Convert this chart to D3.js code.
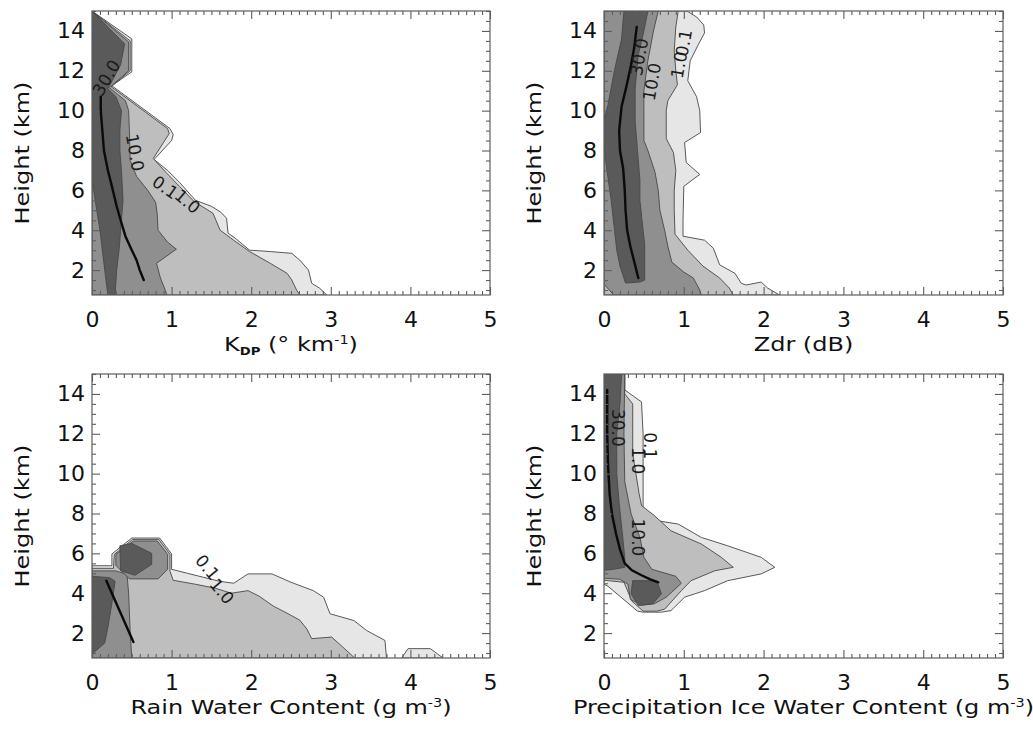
<!DOCTYPE html>
<html>
<head>
<meta charset="utf-8">
<script src="https://cdn.jsdelivr.net/npm/d3@7"></script>
<style>
  html, body { margin: 0; padding: 0; background: #ffffff; }
  svg { display: block; font-family: "DejaVu Sans", sans-serif; }
</style>
</head>
<body>
<svg id="chart" width="1033" height="729"></svg>
<script>
// ---------------------------------------------------------------
// Axis ticks shared by all four CFAD panels
// ---------------------------------------------------------------
const xTickValues = [0, 1, 2, 3, 4, 5];
const heightTickValues = [2, 4, 6, 8, 10, 12, 14];
const heightDomain = [0.75, 15];
const xDomain = [0, 5];

// Frequency contour levels (%) and their fill shades
const contourLevels = [0.1, 1.0, 10.0, 30.0];
const levelFills = ["#e6e6e6", "#bebebe", "#8f8f8f", "#5a5a5a"];

// ---------------------------------------------------------------
// KDP (deg/km) — contour outlines as [value, height km]
// ---------------------------------------------------------------
const kdpLevel01 = [[0,15],[0.5,13.6],[0.5,11.95],[0.25,11.25],[0.98,9.1],[1.02,8.8],[1.0,8.5],[0.78,7.55],[0.95,7.0],[1.1,6.4],[1.3,5.5],[1.5,5.2],[1.62,4.9],[1.69,4.6],[1.71,3.85],[1.8,3.6],[1.98,3.0],[2.24,2.93],[2.51,2.84],[2.61,2.5],[2.72,2.0],[2.76,1.34],[2.86,1.09],[2.95,0.75],[0,0.75]];
const kdpLevel1 = [[0,15],[0.48,13.5],[0.48,12.0],[0.24,11.2],[0.95,9.1],[0.97,8.85],[0.77,7.6],[0.93,6.9],[1.1,6.2],[1.28,5.45],[1.52,4.85],[1.61,4.0],[1.78,3.5],[1.98,2.93],[2.24,2.34],[2.45,1.84],[2.51,1.5],[2.57,1.0],[2.61,0.75],[0,0.75]];
const kdpLevel10 = [[0,15],[0.46,13.45],[0.46,12.0],[0.22,11.15],[0.42,10.5],[0.46,10.0],[0.47,9.0],[0.48,7.5],[0.56,6.7],[0.7,6.0],[0.8,5.4],[0.82,4.8],[0.83,4.0],[0.95,3.4],[1.06,3.05],[0.81,2.34],[0.86,1.6],[0.92,1.0],[0.94,0.75],[0,0.75]];
const kdpLevel30 = [[0,15],[0.41,13.35],[0.36,12.3],[0.2,11.1],[0.3,10.7],[0.37,10.0],[0.35,9.0],[0.35,8.0],[0.37,7.0],[0.39,5.5],[0.36,4.0],[0.34,3.0],[0.31,2.0],[0.29,0.75],[0.2,0.75],[0.16,2.0],[0.1,4.0],[0.04,5.5],[0,6.6]];
const kdpMean = [[0.11,10.7],[0.11,10.0],[0.13,9.0],[0.15,8.0],[0.2,7.0],[0.25,6.2],[0.31,5.2],[0.36,4.5],[0.42,3.7],[0.5,3.0],[0.56,2.5],[0.6,2.0],[0.65,1.5]];

// ---------------------------------------------------------------
// Zdr (dB)
// ---------------------------------------------------------------
const zdrLevel01 = [[0,15],[1.04,15],[1.16,14.7],[1.25,14.3],[1.26,13.9],[1.18,13.3],[1.08,12.5],[1.05,11.5],[1.16,10.7],[1.2,10.0],[1.21,8.9],[1.01,8.4],[1.03,7.4],[1.2,6.8],[1.0,6.2],[0.99,4.5],[0.99,3.7],[1.26,3.5],[1.37,3.1],[1.45,2.26],[1.64,1.84],[1.72,1.34],[1.78,1.25],[1.97,1.4],[2.05,1.1],[2.2,0.75],[0,0.75]];
const zdrLevel1 = [[0,15],[0.93,15],[0.9,14.2],[0.88,13.0],[0.9,12.0],[0.92,11.3],[0.8,10.5],[0.78,10.0],[0.78,8.6],[0.87,7.9],[0.9,7.0],[0.88,6.0],[0.88,5.0],[0.89,3.8],[1.05,3.0],[1.24,2.2],[1.45,1.6],[1.57,1.1],[1.62,0.75],[0,0.75]];
const zdrLevel10 = [[0,15],[0.68,15],[0.62,14],[0.55,12.5],[0.5,11],[0.5,10],[0.5,8.5],[0.55,8.0],[0.64,6.9],[0.68,6.0],[0.7,5.0],[0.76,4.0],[0.8,3.2],[0.85,2.4],[1.0,1.9],[1.12,1.6],[1.2,1.0],[1.22,0.75],[0.12,0.75],[0,1.3]];
const zdrLevel30 = [[0.25,15],[0.55,15],[0.5,14],[0.43,12.8],[0.39,11.1],[0.39,9.5],[0.42,8.0],[0.45,6.5],[0.45,5.5],[0.49,4.0],[0.51,3.3],[0.51,1.5],[0.45,1.4],[0.27,1.35],[0.2,2.2],[0.16,3.0],[0.09,5.5],[0.02,7.5],[0,8.5],[0,9.5],[0.05,10.3],[0.13,12],[0.22,13.6]];
const zdrMean = [[0.41,14.2],[0.38,13.2],[0.34,12.3],[0.28,11.2],[0.22,10.2],[0.19,9.0],[0.2,8.0],[0.24,7.1],[0.26,6.0],[0.27,5.0],[0.29,4.0],[0.33,3.2],[0.38,2.4],[0.43,1.6]];

// ---------------------------------------------------------------
// Rain water content (g m^-3)
// ---------------------------------------------------------------
const rwcLevel01 = [[0,5.38],[0.25,5.38],[0.25,5.97],[0.5,6.77],[0.85,6.77],[1.0,5.97],[1.0,5.2],[1.2,5.0],[1.4,4.8],[1.6,4.6],[1.78,4.5],[1.96,4.97],[2.26,4.97],[2.5,4.55],[2.78,4.13],[2.91,3.8],[2.99,2.97],[3.29,2.63],[3.45,2.13],[3.68,1.63],[3.7,0.75],[0,0.75]];
const rwcLevel01Island = [[3.89,0.75],[3.97,1.22],[4.25,1.22],[4.41,0.75]];
const rwcLevel1 = [[0,5.25],[0.27,5.25],[0.28,5.95],[0.51,6.7],[0.84,6.7],[0.98,5.95],[0.98,5.1],[1.02,4.65],[1.3,4.45],[1.55,4.25],[1.75,4.0],[1.96,4.13],[2.1,3.85],[2.28,3.35],[2.45,3.0],[2.61,2.65],[2.7,2.2],[2.76,1.72],[3.01,1.8],[3.15,1.3],[3.3,0.75],[0,0.75]];
const rwcLevel10 = [[0,5.12],[0.3,5.12],[0.44,4.95],[0.46,4.0],[0.48,2.0],[0.5,0.75],[0,0.75]];
const rwcLevel10Cell = [[0.3,5.95],[0.52,6.62],[0.82,6.62],[0.95,5.95],[0.95,5.2],[0.83,4.72],[0.47,4.72],[0.3,5.4]];
const rwcLevel30 = [[0,4.85],[0.22,4.78],[0.29,4.6],[0.25,3.5],[0.2,2.3],[0.16,1.5],[0,0.95]];
const rwcLevel30Cell = [[0.35,6.38],[0.5,6.5],[0.75,6.0],[0.75,5.45],[0.54,4.9],[0.36,5.13]];
const rwcMean = [[0.18,4.63],[0.52,1.55]];

// ---------------------------------------------------------------
// Precipitation ice water content (g m^-3)
// ---------------------------------------------------------------
const piwcLevel01 = [[0,15],[0.26,15],[0.26,14.2],[0.47,13.6],[0.49,12.0],[0.49,8.2],[0.68,7.63],[0.93,7.47],[1.22,6.8],[1.55,6.38],[1.97,5.8],[2.14,5.3],[1.97,4.97],[1.55,4.63],[1.26,4.13],[1.01,3.8],[0.84,3.13],[0.72,3.05],[0.49,3.05],[0.42,3.1],[0.05,4.35],[0,4.45]];
const piwcLevel1 = [[0,15],[0.26,15],[0.26,14.0],[0.36,13.5],[0.36,11.0],[0.38,10.5],[0.44,9.0],[0.47,8.4],[0.63,7.9],[0.84,7.13],[1.22,6.47],[1.47,5.8],[1.62,5.3],[1.39,5.13],[1.09,4.63],[0.97,4.13],[0.76,3.2],[0.66,3.1],[0.49,3.1],[0.35,3.6],[0.25,4.55],[0,4.65]];
const piwcLevel10 = [[0,15],[0.26,15],[0.25,12],[0.26,9.6],[0.34,7.97],[0.45,6.8],[0.5,5.8],[0.6,5.2],[0.9,4.85],[0.97,4.5],[0.78,3.8],[0.63,3.47],[0.47,3.4],[0.33,3.7],[0.3,4.45],[0.2,4.7],[0,4.75]];
const piwcLevel30 = [[0,15],[0.22,15],[0.2,13.5],[0.16,12],[0.16,10],[0.19,8.5],[0.23,7.0],[0.26,5.8],[0.26,5.3],[0.12,5.2],[0,5.15]];
const piwcLevel30Cell = [[0.36,4.63],[0.66,4.63],[0.72,3.97],[0.61,3.47],[0.43,3.38],[0.34,3.97]];
const piwcMean = [[0.04,14.2],[0.04,12],[0.05,10.5],[0.07,9.0],[0.1,7.97],[0.15,7.0],[0.2,6.2],[0.26,5.5],[0.35,5.15],[0.47,4.9],[0.58,4.7],[0.68,4.55]];

// Contour labels: [text, value, height, rotation]
const kdpLabels = [["30.0",0.18,11.65,-60],["10.0",0.54,7.9,80],["0.1",0.92,6.15,35],["1.0",1.2,5.45,40]];
const zdrLabels = [["30.0",0.44,12.7,-80],["10.0",0.6,11.45,-80],["0.1",1.0,13.4,-80],["1.0",0.94,12.3,-80]];
const rwcLabels = [["0.1",1.45,5.3,50],["1.0",1.63,4.1,50]];
const piwcLabels = [["30.0",0.17,12.3,90],["0.1",0.58,11.4,90],["1.0",0.43,10.65,90],["10.0",0.43,6.8,90]];

// Panel layout: contours are listed per level, lowest first
const panels = [
  { box: [92, 11, 490, 295],
    rings: [[0, kdpLevel01], [1, kdpLevel1], [2, kdpLevel10], [3, kdpLevel30]],
    mean: kdpMean, labels: kdpLabels,
    title: [{t: "K"}, {t: "DP", sub: true}, {t: " (\u00b0 km"}, {t: "-1", sup: true}, {t: ")"}],
    yTitleX: 29 },
  { box: [604, 11, 1003, 295],
    rings: [[0, zdrLevel01], [1, zdrLevel1], [2, zdrLevel10], [3, zdrLevel30]],
    mean: zdrMean, labels: zdrLabels,
    title: [{t: "Zdr (dB)"}],
    yTitleX: 541 },
  { box: [92, 374, 490, 658],
    rings: [[0, rwcLevel01], [0, rwcLevel01Island], [1, rwcLevel1], [2, rwcLevel10], [2, rwcLevel10Cell], [3, rwcLevel30], [3, rwcLevel30Cell]],
    mean: rwcMean, labels: rwcLabels,
    title: [{t: "Rain Water Content (g m"}, {t: "-3", sup: true}, {t: ")"}],
    yTitleX: 29 },
  { box: [604, 374, 1003, 658],
    rings: [[0, piwcLevel01], [1, piwcLevel1], [2, piwcLevel10], [3, piwcLevel30], [3, piwcLevel30Cell]],
    mean: piwcMean, labels: piwcLabels,
    title: [{t: "Precipitation Ice Water Content (g m"}, {t: "-3", sup: true}, {t: ")"}],
    yTitleX: 541 }
];

const svg = d3.select("#chart");
const frameColor = "#5e5e5e";
const tickFont = 22;
const titleFont = 20;
const titleStretch = 1.2;   // titles are set in a wide face

const minorX = d3.range(0, 5.0001, 0.1).filter(v => Math.abs(v - Math.round(v)) > 1e-6);
const minorY = d3.range(1, 15.0001, 0.5).filter(v => v % 2 !== 0);

function writeRich(textSel, parts) {
  let shift = 0;
  parts.forEach(p => {
    const ts = textSel.append("tspan").text(p.t);
    let target = 0;
    if (p.sub) { ts.attr("font-size", 11).attr("font-weight", "bold"); target = 4; }
    if (p.sup) { ts.attr("font-size", 12); target = -7; }
    ts.attr("dy", target - shift);
    shift = target;
  });
}

panels.forEach((p, i) => {
  const [x0, y0, x1, y1] = p.box;
  const x = d3.scaleLinear().domain(xDomain).range([x0, x1]);
  const y = d3.scaleLinear().domain(heightDomain).range([y1, y0]);
  const g = svg.append("g");

  const clipId = "clip" + i;
  g.append("clipPath").attr("id", clipId)
    .append("rect").attr("x", x0).attr("y", y0).attr("width", x1 - x0).attr("height", y1 - y0);

  const ring = d3.line().x(d => x(d[0])).y(d => y(d[1])).curve(d3.curveLinearClosed);
  const plot = g.append("g").attr("clip-path", `url(#${clipId})`);

  plot.selectAll("path.level")
    .data(p.rings)
    .join("path")
    .attr("class", "level")
    .attr("d", d => ring(d[1]))
    .attr("fill", d => levelFills[d[0]])
    .attr("stroke", "#474747")
    .attr("stroke-width", 0.9)
    .attr("stroke-linejoin", "round");

  plot.append("path")
    .attr("d", d3.line().x(d => x(d[0])).y(d => y(d[1])).curve(d3.curveLinear)(p.mean))
    .attr("fill", "none")
    .attr("stroke", "#0a0a0a")
    .attr("stroke-width", 2.4)
    .attr("stroke-linecap", "round");

  plot.selectAll("text.clabel")
    .data(p.labels)
    .join("text")
    .attr("class", "clabel")
    .attr("transform", d => `translate(${x(d[1])},${y(d[2])}) rotate(${d[3]})`)
    .attr("text-anchor", "middle")
    .attr("dominant-baseline", "central")
    .attr("font-size", 17)
    .attr("fill", "#1a1a1a")
    .text(d => d[0]);

  // Frame
  g.append("rect")
    .attr("x", x0).attr("y", y0).attr("width", x1 - x0).attr("height", y1 - y0)
    .attr("fill", "none").attr("stroke", frameColor).attr("stroke-width", 1.2);

  // Axes with inward ticks on all four sides
  const styleAxis = sel => {
    sel.select(".domain").remove();
    sel.selectAll(".tick line").attr("stroke", frameColor).attr("stroke-width", 1.1);
    sel.selectAll(".tick text").attr("fill", "#111").attr("font-size", tickFont)
      .attr("font-family", "DejaVu Sans, sans-serif");
  };
  const ticksOnly = sel => { styleAxis(sel); sel.selectAll(".tick text").remove(); };

  g.append("g").attr("transform", `translate(0,${y1})`)
    .call(d3.axisBottom(x).tickValues(xTickValues).tickSize(-8).tickPadding(16).tickFormat(d3.format("d")))
    .call(styleAxis);
  g.append("g").attr("transform", `translate(0,${y1})`)
    .call(d3.axisBottom(x).tickValues(minorX).tickSize(-4))
    .call(ticksOnly);
  g.append("g").attr("transform", `translate(0,${y0})`)
    .call(d3.axisTop(x).tickValues(xTickValues).tickSize(-8))
    .call(ticksOnly);
  g.append("g").attr("transform", `translate(0,${y0})`)
    .call(d3.axisTop(x).tickValues(minorX).tickSize(-4))
    .call(ticksOnly);

  g.append("g").attr("transform", `translate(${x0},0)`)
    .call(d3.axisLeft(y).tickValues(heightTickValues).tickSize(-8).tickPadding(7).tickFormat(d3.format("d")))
    .call(styleAxis);
  g.append("g").attr("transform", `translate(${x0},0)`)
    .call(d3.axisLeft(y).tickValues(minorY).tickSize(-4))
    .call(ticksOnly);
  g.append("g").attr("transform", `translate(${x1},0)`)
    .call(d3.axisRight(y).tickValues(heightTickValues).tickSize(-8))
    .call(ticksOnly);
  g.append("g").attr("transform", `translate(${x1},0)`)
    .call(d3.axisRight(y).tickValues(minorY).tickSize(-4))
    .call(ticksOnly);

  // Axis titles (horizontally widened)
  const xt = g.append("text")
    .attr("transform", `translate(${(x0 + x1) / 2},${y1 + 56}) scale(${titleStretch},1)`)
    .attr("text-anchor", "middle").attr("font-size", titleFont).attr("fill", "#111");
  writeRich(xt, p.title);

  g.append("text")
    .attr("transform", `translate(${p.yTitleX},${(y0 + y1) / 2}) rotate(-90) scale(${titleStretch},1)`)
    .attr("text-anchor", "middle").attr("font-size", titleFont).attr("fill", "#111")
    .text("Height (km)");
});
</script>
</body>
</html>
